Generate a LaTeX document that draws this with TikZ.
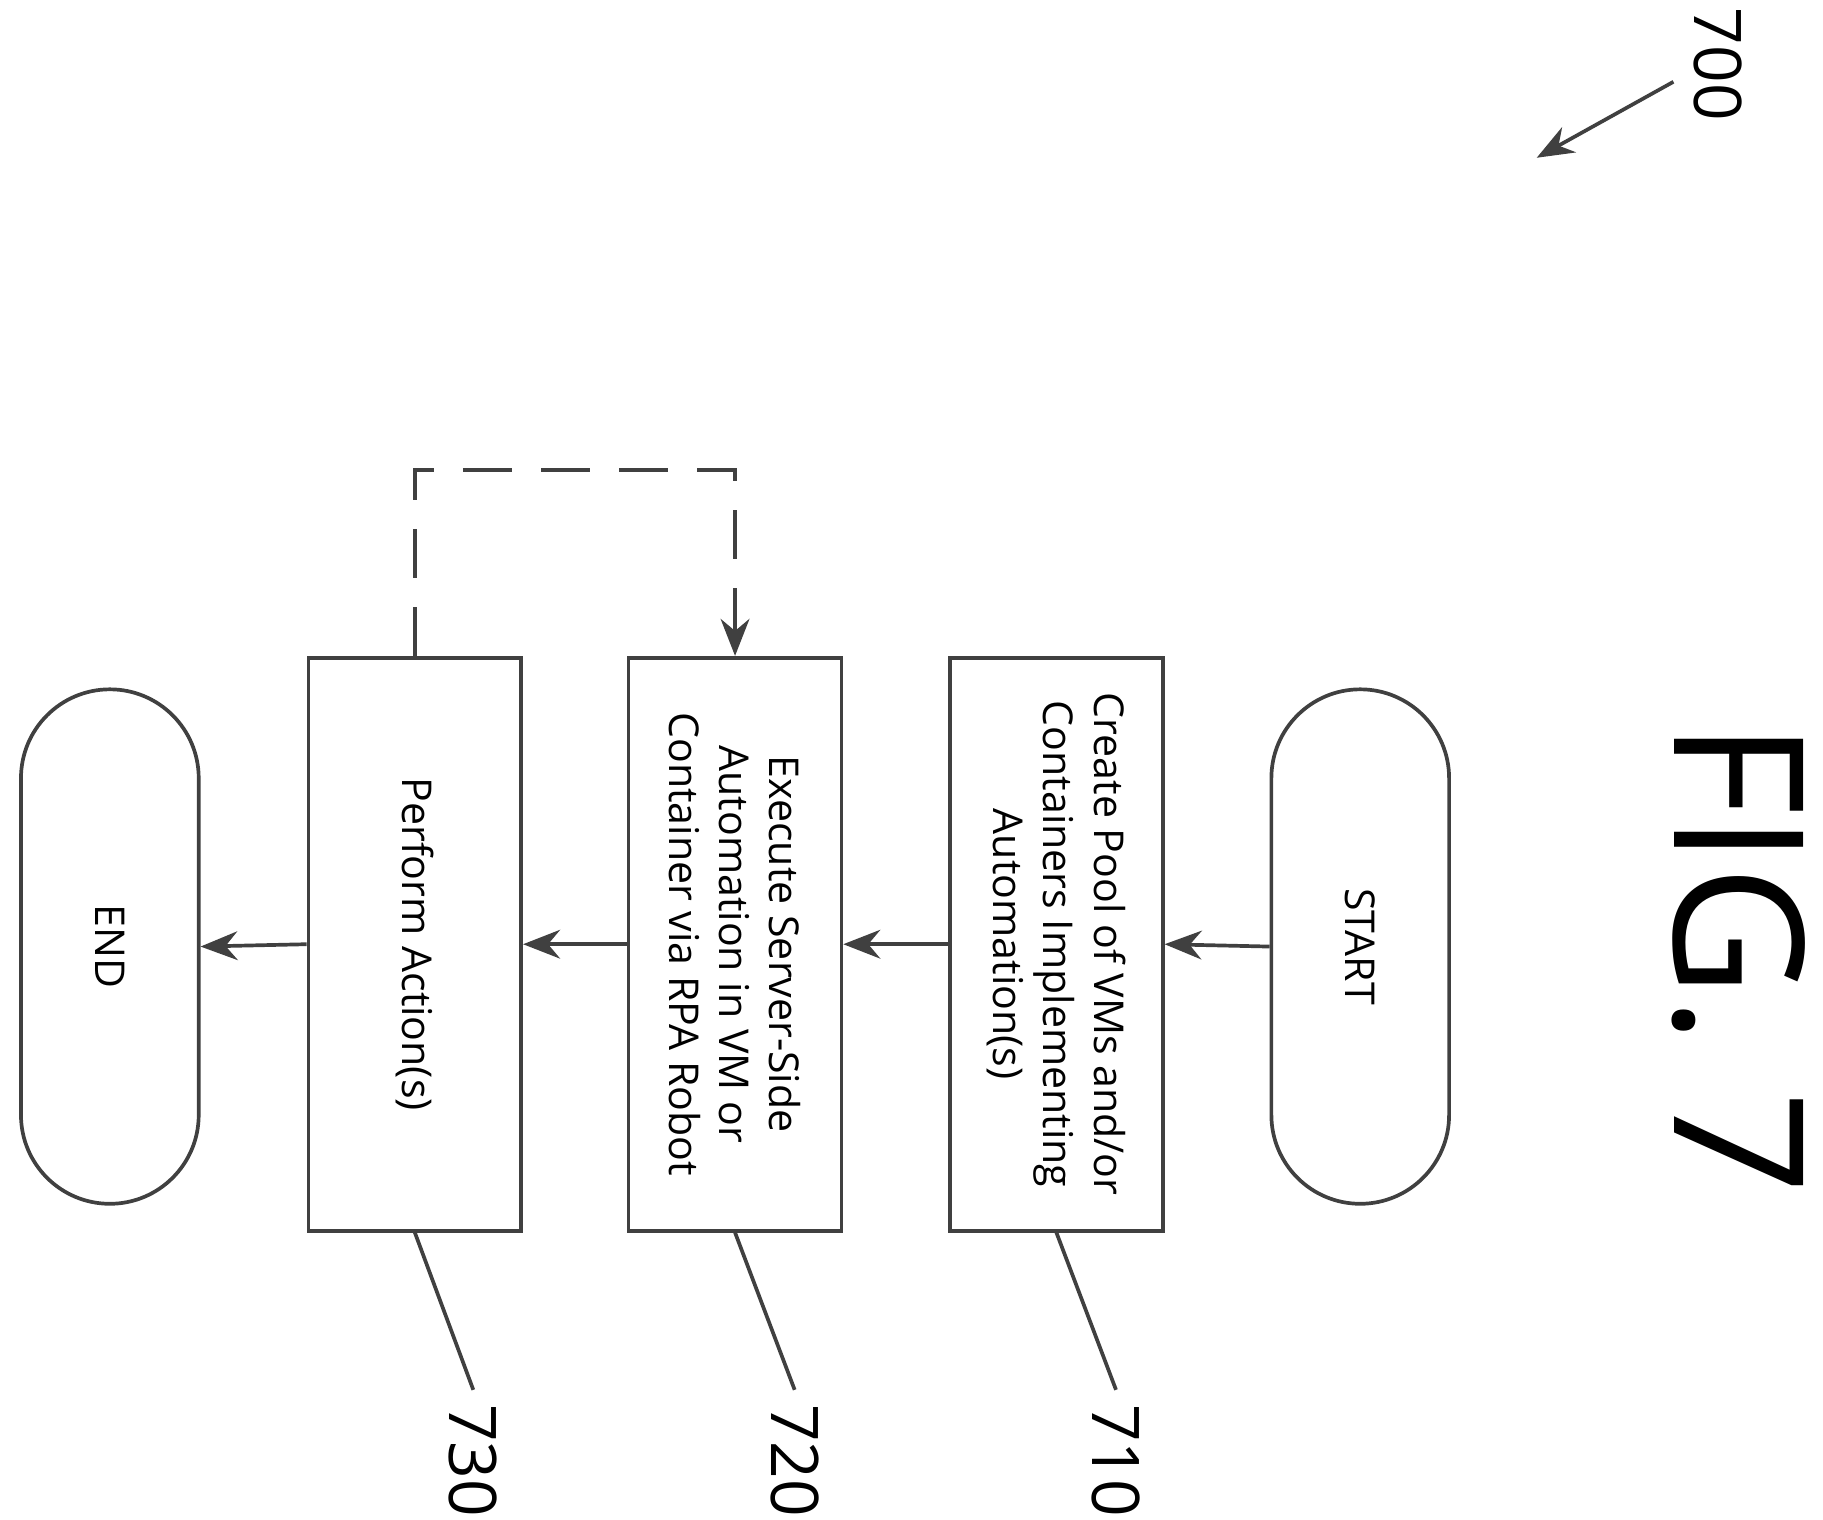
\documentclass[tikz,border=0pt]{standalone}
\usepackage{fontspec}
\setmainfont{Open Sans}
\usetikzlibrary{arrows.meta}
\begin{document}
\begin{tikzpicture}[x=0.01cm,y=-0.01cm,
  line/.style={draw=black!75,line width=0.9pt},
  arr/.style={line,-{Stealth[length=9pt,width=7pt]}},
  box/.style={line,rotate=-90,minimum width=4.9cm,minimum height=1.82cm,align=center,font=\fontsize{10}{12.2}\selectfont,inner sep=0pt},
  term/.style={line,rotate=-90,minimum width=4.4cm,minimum height=1.52cm,rounded corners=0.76cm,font=\fontsize{10}{12}\selectfont},
  num/.style={rotate=-90,font=\fontsize{16}{16}\selectfont}]
\useasboundingbox (0,0) rectangle (1560,1300);
\node[term] (start) at (1164,810) {START};
\node[box] (b1) at (904,808) {Create Pool of VMs and/or\\Containers Implementing\\Automation(s)};
\node[box] (b2) at (629,808) {Execute Server-Side\\Automation in VM or\\Container via RPA Robot};
\node[box] (b3) at (355,808) {Perform Action(s)};
\node[term] (end) at (94,810) {END};
\draw[arr] (start.south) -- (b1.north);
\draw[arr] (b1.south) -- (b2.north);
\draw[arr] (b2.south) -- (b3.north);
\draw[arr] (b3.south) -- (end.north);
\coordinate (d1) at (355,402);
\coordinate (d2) at (629,402);
\draw[arr,dash pattern=on 12pt off 7pt] (b3.west) -- (d1) -- (d2) -- (b2.west);
\node[num] (n710) at (955,1250) {710};
\node[num] (n720) at (680,1250) {720};
\node[num] (n730) at (405,1250) {730};
\draw[line] (b1.east) -- (n710.west);
\draw[line] (b2.east) -- (n720.west);
\draw[line] (b3.east) -- (n730.west);
\node[num] (n700) at (1470,55) {700};
\coordinate (a700) at (1315,135);
\draw[arr] (1432,70) -- (a700);
\node[rotate=-90,font=\fontsize{44}{44}\selectfont] (fig) at (1488,820) {FIG. 7};
\end{tikzpicture}
\end{document}
